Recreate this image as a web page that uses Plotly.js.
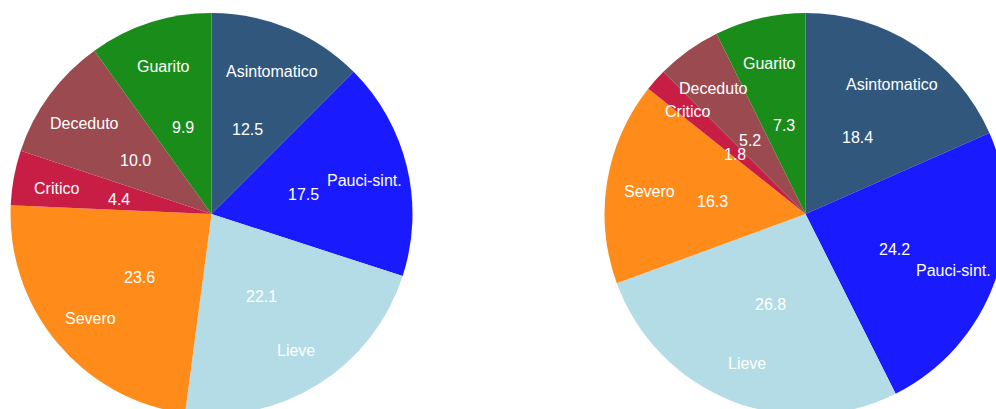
<!DOCTYPE html>
<html>
<head>
<meta charset="utf-8">
<script src="https://cdn.plot.ly/plotly-3.0.1.min.js"></script>
<style>
html, body { margin: 0; padding: 0; overflow: hidden; background: #fff; }
#chart { width: 1020px; height: 430px; }
</style>
</head>
<body>
<div id="chart"></div>
<script>
// Data
const categories = ["Asintomatico", "Pauci-sint.", "Lieve", "Severo", "Critico", "Deceduto", "Guarito"];
const valuesLeft = [12.5, 17.5, 22.1, 23.6, 4.4, 10.0, 9.9];
const valuesRight = [18.4, 24.2, 26.8, 16.3, 1.8, 5.2, 7.3];
const colors = ["#31587c", "#1a1aff", "#b4dce6", "#ff8c1a", "#c81e46", "#9b4a50", "#1a8c1a"];

// Layout geometry (pixels)
const W = 1020, H = 430;
const R = 201;
const pies = [
  { values: valuesLeft, cx: 211.5, cy: 214 },
  { values: valuesRight, cx: 805.5, cy: 214 }
];
const labelDist = 0.785;
const valueDist = 0.47;

const traces = [];
const annotations = [];
pies.forEach(function (p) {
  traces.push({
    type: "pie",
    labels: categories,
    values: p.values,
    sort: false,
    direction: "clockwise",
    rotation: 0,
    textinfo: "none",
    hoverinfo: "none",
    showlegend: false,
    marker: { colors: colors, line: { width: 0 } },
    domain: {
      x: [(p.cx - R) / W, (p.cx + R) / W],
      y: [1 - (p.cy + R) / H, 1 - (p.cy - R) / H]
    }
  });
  const total = p.values.reduce(function (a, b) { return a + b; }, 0);
  let cum = 0;
  p.values.forEach(function (v, i) {
    const theta = (cum + v / 2) / total * 2 * Math.PI;
    cum += v;
    [[categories[i], labelDist], [v.toFixed(1), valueDist]].forEach(function (t) {
      const px = p.cx + t[1] * R * Math.sin(theta);
      const py = p.cy - t[1] * R * Math.cos(theta);
      annotations.push({
        xref: "paper", yref: "paper",
        x: px / W, y: 1 - py / H,
        xanchor: "center", yanchor: "middle",
        yshift: -3,
        text: t[0],
        showarrow: false,
        font: { family: "Liberation Sans, Arial, sans-serif", size: 16, color: "#ffffff" }
      });
    });
  });
});

const layout = {
  width: W, height: H,
  margin: { l: 0, r: 0, t: 0, b: 0 },
  paper_bgcolor: "#ffffff",
  plot_bgcolor: "#ffffff",
  showlegend: false,
  annotations: annotations
};

Plotly.newPlot("chart", traces, layout, { staticPlot: true, displayModeBar: false });
</script>
</body>
</html>
